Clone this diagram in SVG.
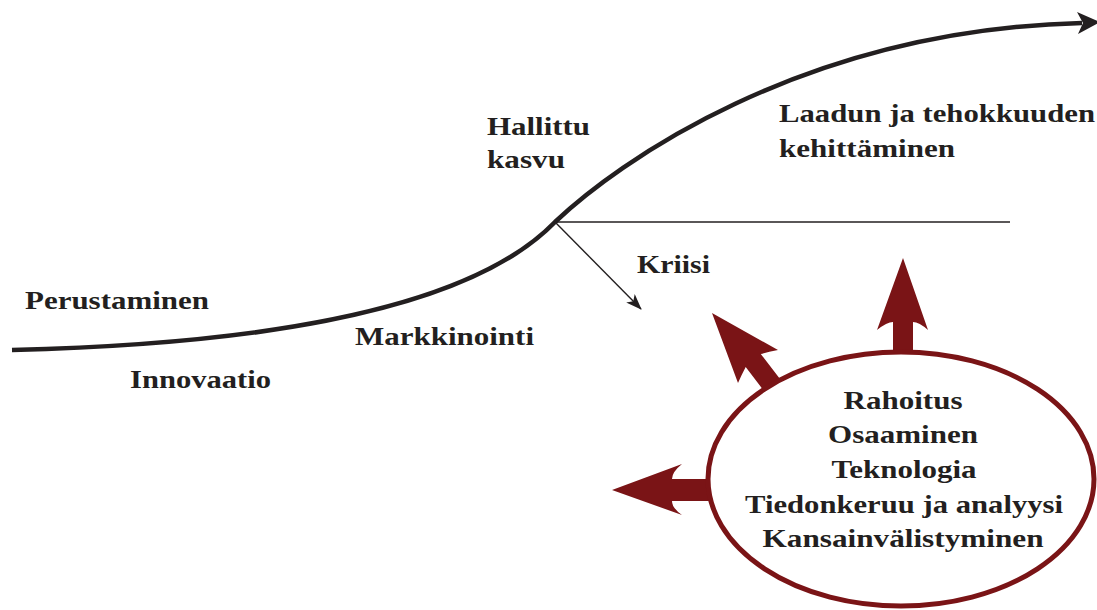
<svg xmlns="http://www.w3.org/2000/svg" width="1097" height="610" viewBox="0 0 1097 610">
<defs>
<style>
.t{font-family:"Liberation Serif","Times New Roman",serif;font-weight:bold;font-size:26px;fill:#231f20}
.c{text-anchor:middle}
.red{fill:#7a1416}
</style>
<marker id="thin" viewBox="0 0 16 12" refX="15" refY="6" markerWidth="16" markerHeight="12" markerUnits="userSpaceOnUse" orient="auto">
<path d="M0,0 L16,6 L0,12 L4,6 Z" fill="#231f20"/>
</marker>
</defs>
<rect width="1097" height="610" fill="#ffffff"/>
<g id="connectors">
<path id="s-curve" d="M12,350 C220,345 460,320 555,222 C615,165 800,30 1082,23" fill="none" stroke="#231f20" stroke-width="4.5"/>
<path id="curve-head" d="M1100,22 L1077,12 L1083,23 L1078,34 Z" fill="#231f20"/>
<line id="plateau" x1="555" y1="222" x2="1010" y2="222" stroke="#231f20" stroke-width="1.3"/>
<line id="crisis-arrow" x1="555" y1="222" x2="641" y2="309" stroke="#231f20" stroke-width="1.4" marker-end="url(#thin)"/>
<path id="arrow-up" class="red" d="M903,258 L928,330 Q919,322 913,322 L913,372 L893,372 L893,322 Q887,322 877,330 Z"/>
<path id="arrow-diag" class="red" d="M712,313 L778,350 Q768,352 760.8,354 L790,392 L774,404 L745.7,367 Q742,374 738,383 Z"/>
<path id="arrow-left" class="red" d="M612,490 L682,464 Q672,472 672,479 L725,479 L725,501 L672,501 Q672,508 682,515 Z"/>
</g>
<g id="resources">
<ellipse cx="901" cy="479" rx="193" ry="127" fill="#ffffff" stroke="#7a1416" stroke-width="5"/>
<text class="t c" x="903" y="409" textLength="119" lengthAdjust="spacingAndGlyphs">Rahoitus</text>
<text class="t c" x="903" y="443" textLength="150" lengthAdjust="spacingAndGlyphs">Osaaminen</text>
<text class="t c" x="904" y="478" textLength="145" lengthAdjust="spacingAndGlyphs">Teknologia</text>
<text class="t c" x="904" y="513" textLength="318" lengthAdjust="spacingAndGlyphs">Tiedonkeruu ja analyysi</text>
<text class="t c" x="903" y="547" textLength="281" lengthAdjust="spacingAndGlyphs">Kansainvälistyminen</text>
</g>
<g id="perustaminen"><text class="t" x="25" y="309" textLength="184" lengthAdjust="spacingAndGlyphs">Perustaminen</text></g>
<g id="innovaatio"><text class="t" x="130" y="388" textLength="141" lengthAdjust="spacingAndGlyphs">Innovaatio</text></g>
<g id="markkinointi"><text class="t" x="355" y="345" textLength="179" lengthAdjust="spacingAndGlyphs">Markkinointi</text></g>
<g id="hallittu-kasvu">
<text class="t" x="487" y="135" textLength="103" lengthAdjust="spacingAndGlyphs">Hallittu</text>
<text class="t" x="487" y="168" textLength="78" lengthAdjust="spacingAndGlyphs">kasvu</text>
</g>
<g id="laadun">
<text class="t" x="779" y="122" textLength="316" lengthAdjust="spacingAndGlyphs">Laadun ja tehokkuuden</text>
<text class="t" x="779" y="157" textLength="176" lengthAdjust="spacingAndGlyphs">kehittäminen</text>
</g>
<g id="kriisi"><text class="t" x="637" y="273" textLength="73" lengthAdjust="spacingAndGlyphs">Kriisi</text></g>
</svg>
